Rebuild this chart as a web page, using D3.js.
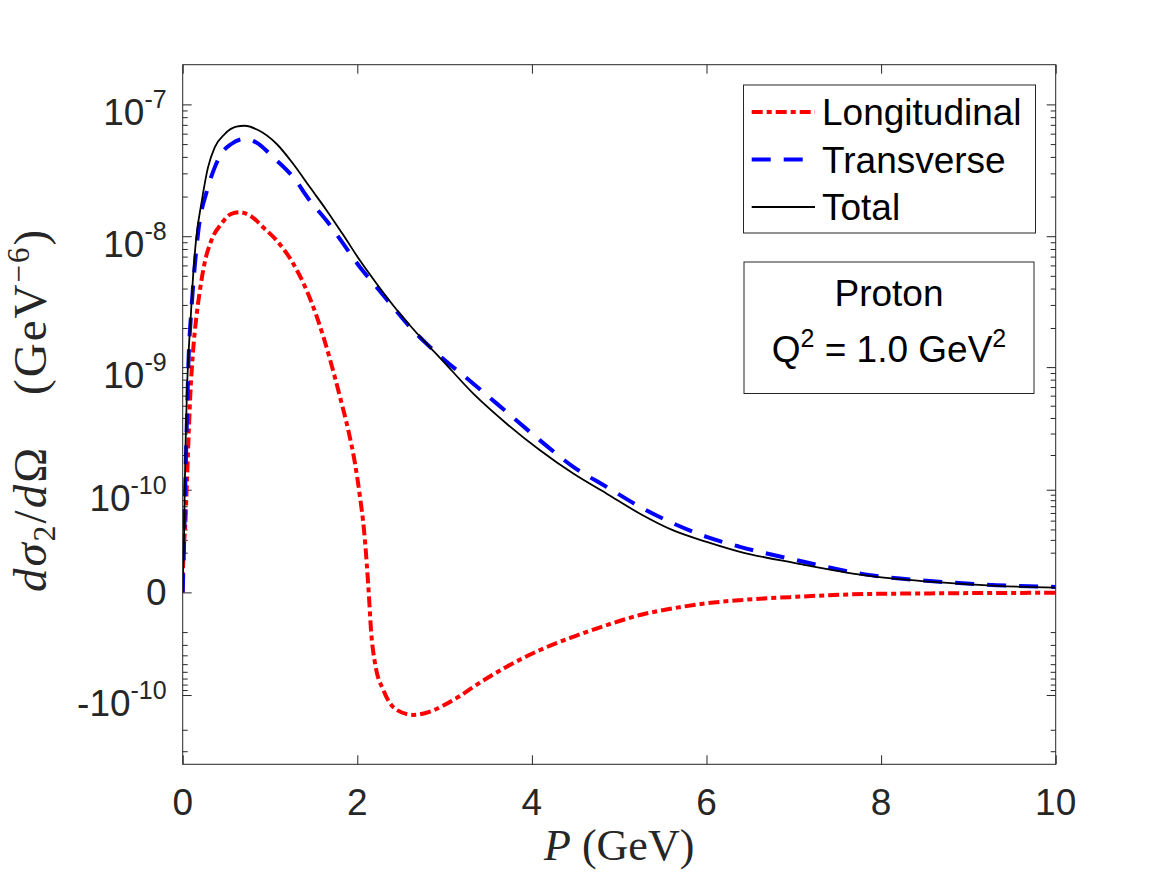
<!DOCTYPE html>
<html>
<head>
<meta charset="UTF-8">
<script src="https://cdn.jsdelivr.net/npm/d3@7/dist/d3.min.js"></script>
<style>
body{
    margin:0;
    background:#fff;
}
text{
    font-family: "Liberation Sans", Arial, Helvetica, sans-serif;
}
.serif{
    font-family: "Liberation Serif", "Times New Roman", serif;
}
</style>
</head>
<body>
<script>
// momentum P (GeV) and d sigma_2 / d Omega (GeV^-6)
var pLong = [0, 0.003, 0.032, 0.049, 0.066, 0.084, 0.103, 0.124, 0.152, 0.192,
    0.252, 0.328, 0.442, 0.557, 0.653, 0.767, 0.939, 1.077, 1.267, 1.42,
    1.535, 1.687, 1.802, 1.897, 1.974, 2.031, 2.077, 2.108, 2.134, 2.157,
    2.203, 2.298, 2.451, 2.641, 2.833, 2.985, 3.176, 3.329, 3.711, 4.093,
    4.474, 4.857, 5.238, 5.62, 6.002, 6.384, 7.033, 7.796, 8.56, 10]
var longitudinal = [0, 9.5e-12, 5.05e-11, 1.22e-10, 2.64e-10, 5.51e-10, 9.43e-10, 1.47e-9, 2.28e-9, 3.67e-9,
    6.31e-9, 9.27e-9, 1.24e-8, 1.48e-8, 1.52e-8, 1.44e-8, 1.14e-8, 9.27e-9, 6.17e-9, 3.87e-9,
    2.45e-9, 1.15e-9, 5.85e-10, 3.19e-10, 1.69e-10, 8.58e-11, 3.92e-11, 1.32e-11, -1.6e-12, -1.86e-11,
    -4.89e-11, -8.98e-11, -1.356e-10, -1.498e-10, -1.403e-10, -1.239e-10, -1.019e-10, -8.42e-11, -5.32e-11, -3.47e-11,
    -2.34e-11, -1.54e-11, -9.7e-12, -6.4e-12, -4.2e-12, -2.9e-12, -1.6e-12, -6e-13, -3.5e-13, -1.4e-13]

var pTrans = [0, 0.004, 0.015, 0.03, 0.049, 0.066, 0.099, 0.137, 0.175, 0.29,
    0.367, 0.442, 0.557, 0.71, 0.843, 1.038, 1.267, 1.458, 1.649, 1.84,
    2.031, 2.222, 2.412, 2.604, 2.795, 2.947, 3.329, 3.711, 4.093, 4.474,
    4.857, 5.238, 5.62, 6.002, 6.384, 7.033, 7.796, 8.56, 9.324, 10]
var transverse = [0, 4.8e-12, 2.56e-11, 1.14e-10, 4.07e-10, 1.09e-9, 2.72e-9, 5.81e-9, 1.04e-8, 2.35e-8,
    3.33e-8, 4.21e-8, 5.01e-8, 5.47e-8, 5.15e-8, 3.97e-8, 2.8e-8, 1.86e-8, 1.31e-8, 8.75e-9,
    5.81e-9, 4.1e-9, 2.88e-9, 2.03e-9, 1.51e-9, 1.22e-9, 7.44e-10, 4.46e-10, 2.64e-10, 1.59e-10,
    1.06e-10, 6.9e-11, 4.66e-11, 3.27e-11, 2.43e-11, 1.51e-11, 7.5e-12, 4.4e-12, 2.7e-12, 2.0e-12]

var pTotal = [0, 0.004, 0.015, 0.023, 0.034, 0.049, 0.066, 0.092, 0.118, 0.156,
    0.213, 0.29, 0.367, 0.481, 0.614, 0.71, 0.863, 1.077, 1.267, 1.458,
    1.649, 1.84, 2.031, 2.222, 2.412, 2.604, 2.795, 2.947, 3.329, 3.711,
    4.093, 4.474, 4.857, 5.238, 5.62, 6.002, 6.384, 7.033, 7.796, 8.56,
    9.324, 10]
var total = [0, 7.9e-12, 3.0e-11, 9.9e-11, 2.64e-10, 6.6e-10, 1.23e-9, 2.42e-9, 4.88e-9, 9.82e-9,
    1.76e-8, 3.33e-8, 4.72e-8, 5.96e-8, 6.77e-8, 6.89e-8, 6.39e-8, 5.01e-8, 3.53e-8, 2.35e-8,
    1.57e-8, 1.02e-8, 6.53e-9, 4.35e-9, 2.97e-9, 2.09e-9, 1.51e-9, 1.18e-9, 6.22e-10, 3.6e-10,
    2.19e-10, 1.39e-10, 9.2e-11, 5.9e-11, 3.9e-11, 2.83e-11, 2.06e-11, 1.32e-11, 7.0e-12, 4.1e-12,
    2.4e-12, 1.7e-12]

var xTickVals = [0, 2, 4, 6, 8, 10]
var yTickVals = [-1e-10, 0, 1e-10, 1e-9, 1e-8, 1e-7]
var yTickBase = ["-10", "0", "10", "10", "10", "10"]
var yTickExp = ["-10", "", "-10", "-9", "-8", "-7"]

var legendNames = ["Longitudinal", "Transverse", "Total"]

var width = 1167
var height = 875
var plotL = 182.7, plotR = 1055.7, plotT = 64.7, plotB = 764.3
var axisColor = "#262626"

var svg = d3.select("body")
    .append("svg")
    .attr("width", width)
    .attr("height", height)

var x = d3.scaleLinear().domain([0, 10]).range([plotL, plotR])
var y = d3.scaleSymlog().constant(2e-11).domain([-3.82e-10, 2e-7]).range([plotB, plotT])

// minor ticks at 2..9 x 10^n, both signs
var yMinor = []
for (let e = -11; e <= -8; e++){
    for (let m = 2; m <= 9; m++){
        let v = m * Math.pow(10, e)
        if (v < 2e-7) yMinor.push(v)
        if (-v > -3.82e-10) yMinor.push(-v)
    }
}

svg.append("rect")
    .attr("x", 0).attr("y", 0)
    .attr("width", width).attr("height", height)
    .attr("fill", "white")

// ticks, pointing inward
function tickGroup(axis, tx, ty){
    let g = svg.append("g")
        .attr("transform", "translate(" + tx + "," + ty + ")")
        .style("color", axisColor)
        .call(axis)
    g.select(".domain").remove()
    g.selectAll("line").attr("stroke-width", 1)
    return g
}
tickGroup(d3.axisBottom(x).tickValues(xTickVals).tickSize(-9).tickFormat(""), 0, plotB)
tickGroup(d3.axisTop(x).tickValues(xTickVals).tickSize(-9).tickFormat(""), 0, plotT)
tickGroup(d3.axisLeft(y).tickValues(yTickVals).tickSize(-9).tickFormat(""), plotL, 0)
tickGroup(d3.axisRight(y).tickValues(yTickVals).tickSize(-9).tickFormat(""), plotR, 0)
tickGroup(d3.axisLeft(y).tickValues(yMinor).tickSize(-5).tickFormat(""), plotL, 0)
tickGroup(d3.axisRight(y).tickValues(yMinor).tickSize(-5).tickFormat(""), plotR, 0)

// x tick labels
svg.append("g")
    .selectAll("text")
    .data(xTickVals)
    .enter()
    .append("text")
    .attr("x", d => x(d))
    .attr("y", plotB + 51)
    .attr("text-anchor", "middle")
    .attr("font-size", 37)
    .attr("fill", axisColor)
    .text(d => d)

// y tick labels with superscripts
yTickVals.forEach(function(v, i){
    let t = svg.append("text")
        .attr("x", plotL - 16)
        .attr("y", y(v) + (yTickExp[i] ? 21 : 13))
        .attr("text-anchor", "end")
        .attr("font-size", 37)
        .attr("fill", axisColor)
    t.append("tspan").text(yTickBase[i])
    if (yTickExp[i]){
        t.append("tspan")
            .attr("dy", -17)
            .attr("font-size", 25)
            .text(yTickExp[i])
    }
})

// curves
svg.append("clipPath").attr("id", "plotclip")
    .append("rect")
    .attr("x", plotL).attr("y", plotT)
    .attr("width", plotR - plotL).attr("height", plotB - plotT)

var line = d3.line()
    .x(d => x(d[0]))
    .y(d => y(d[1]))
    .curve(d3.curveMonotoneX)

var series = [
    {name: legendNames[0], p: pLong, v: longitudinal, color: "#ff0000", w: 4, dash: "11,4,5,4"},
    {name: legendNames[1], p: pTrans, v: transverse, color: "#0000ff", w: 4, dash: "19,13"},
    {name: legendNames[2], p: pTotal, v: total, color: "#000000", w: 1.8, dash: null}
]

var plot = svg.append("g").attr("clip-path", "url(#plotclip)")
series.forEach(function(s){
    plot.append("path")
        .datum(d3.zip(s.p, s.v))
        .attr("d", line)
        .attr("fill", "none")
        .attr("stroke", s.color)
        .attr("stroke-width", s.w)
        .attr("stroke-dasharray", s.dash)
})

// axes box
svg.append("rect")
    .attr("x", plotL).attr("y", plotT)
    .attr("width", plotR - plotL).attr("height", plotB - plotT)
    .attr("fill", "none")
    .attr("stroke", axisColor)
    .attr("stroke-width", 1)

// legend
var legend = svg.append("g")
legend.append("rect")
    .attr("x", 743.5).attr("y", 85)
    .attr("width", 292).attr("height", 148)
    .attr("fill", "white")
    .attr("stroke", axisColor)
    .attr("stroke-width", 1)
series.forEach(function(s, i){
    let by = 125 + i * 47.5
    legend.append("line")
        .attr("x1", 751.7).attr("x2", 815)
        .attr("y1", by - 13).attr("y2", by - 13)
        .attr("stroke", s.color)
        .attr("stroke-width", s.w)
        .attr("stroke-dasharray", s.dash)
    legend.append("text")
        .attr("x", 822)
        .attr("y", by)
        .attr("font-size", 37)
        .attr("fill", "black")
        .text(s.name)
})

// annotation box
var note = svg.append("g")
note.append("rect")
    .attr("x", 744).attr("y", 262)
    .attr("width", 290).attr("height", 131.5)
    .attr("fill", "white")
    .attr("stroke", axisColor)
    .attr("stroke-width", 1)
note.append("text")
    .attr("x", 889).attr("y", 306)
    .attr("text-anchor", "middle")
    .attr("font-size", 37)
    .text("Proton")
var q = note.append("text")
    .attr("x", 889).attr("y", 362)
    .attr("text-anchor", "middle")
    .attr("font-size", 37)
q.append("tspan").text("Q")
q.append("tspan").attr("dy", -15).attr("font-size", 25).text("2")
q.append("tspan").attr("dy", 15).text(" = 1.0 GeV")
q.append("tspan").attr("dy", -15).attr("font-size", 25).text("2")

// axis labels
var xl = svg.append("text")
    .attr("class", "serif")
    .attr("x", (plotL + plotR) / 2)
    .attr("y", 860)
    .attr("text-anchor", "middle")
    .attr("font-size", 44)
    .attr("fill", axisColor)
xl.append("tspan").attr("font-style", "italic").text("P")
xl.append("tspan").text(" (GeV)")

var yl = svg.append("text")
    .attr("class", "serif")
    .attr("transform", "translate(46,410) rotate(-90)")
    .attr("text-anchor", "middle")
    .attr("font-size", 47)
    .attr("letter-spacing", 2)
    .attr("fill", axisColor)
yl.append("tspan").attr("font-style", "italic").text("dσ")
yl.append("tspan").attr("dy", 9).attr("font-size", 32).text("2")
yl.append("tspan").attr("dy", -9).text("/")
yl.append("tspan").attr("font-style", "italic").text("d")
yl.append("tspan").text("Ω\u2002\u2002(GeV")
yl.append("tspan").attr("dy", -17).attr("font-size", 31).text("−6")
yl.append("tspan").attr("dy", 17).text(")")
</script>
</body>
</html>
